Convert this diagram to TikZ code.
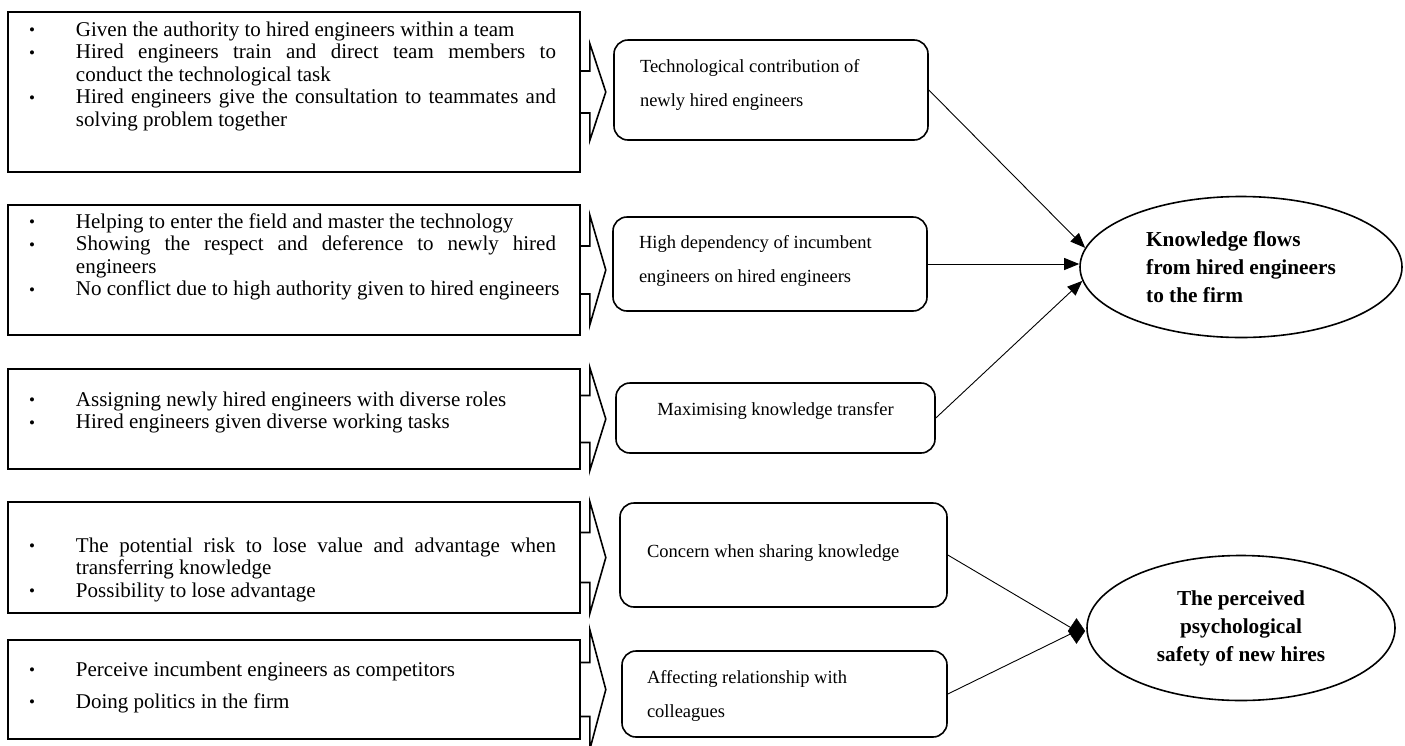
\documentclass[tikz,border=0pt]{standalone}
\usepackage{fontspec}
\setmainfont{Liberation Serif}
\usetikzlibrary{shapes.geometric,arrows.meta,calc}

\newcommand{\bulbox}{\makebox[47pt][l]{\raisebox{0.5pt}{\fontsize{17}{17}\selectfont\textbullet}}}
\newcommand{\bitem}[1]{\hspace*{21pt}\bulbox#1\par}
\newcommand{\bcont}[1]{\hspace*{68pt}#1\par}
\newcommand{\jline}[1]{\makebox[480pt][s]{#1}}
% #1 height, #2 baselineskip, #3 first baseline offset, #4 lines
\newcommand{\lefttext}[4]{\parbox[c][#1pt][t]{572pt}{\fontsize{21}{#2pt}\selectfont\rule{0pt}{#3pt}#4}}
% #1 width, #2 height, #3 first baseline offset, #4 lines
\newcommand{\rtext}[4]{\parbox[c][#2pt][t]{#1pt}{\fontsize{18.5}{34pt}\selectfont\rule{0pt}{#3pt}#4}}
% #1 node, #2 shaft half height, #3 head half height
\newcommand{\blockarrow}[3]{%
  \draw[barrow] ($(#1.east)+(0,-#2)$) -- ++(9,0) -- ++(0,{-(#3-#2)})
    -- ($(#1.east)+(25,0)$) -- ($(#1.east)+(9,#3)$) -- ++(0,{-(#3-#2)})
    -- ($(#1.east)+(0,#2)$);}

\tikzset{
  lbox/.style={draw, line width=1.6pt, rectangle, inner sep=0pt},
  rbox/.style={draw, line width=1.6pt, rectangle, rounded corners=14pt, inner sep=0pt},
  ell/.style={draw, line width=1.6pt, ellipse, inner sep=0pt,
    font=\fontsize{21.3}{28}\selectfont\bfseries},
  barrow/.style={draw, line width=1.6pt, line join=miter},
  conn/.style={draw, line width=0.9pt},
  tri/.style={-{Triangle[length=15pt,width=12pt]}},
  dmd/.style={diamond, fill=black, draw=black, inner sep=0pt, minimum width=17pt, minimum height=25pt}
}

\begin{document}
\begin{tikzpicture}[x=1pt,y=-1pt]
\useasboundingbox (0,0) rectangle (1405,745);

% left boxes
\node[lbox] (b1) at (294,92) {\lefttext{160}{22.5}{24}{%
  \bitem{Given the authority to hired engineers within a team}
  \bitem{\jline{Hired engineers train and direct team members to}}
  \bcont{conduct the technological task}
  \bitem{\jline{Hired engineers give the consultation to teammates and}}
  \bcont{solving problem together}}};

\node[lbox] (b2) at (294,270) {\lefttext{130}{22.5}{23}{%
  \bitem{Helping to enter the field and master the technology}
  \bitem{\jline{Showing the respect and deference to newly hired}}
  \bcont{engineers}
  \bitem{No conflict due to high authority given to hired engineers}}};

\node[lbox] (b3) at (294,419) {\lefttext{100}{22.5}{37}{%
  \bitem{Assigning newly hired engineers with diverse roles}
  \bitem{Hired engineers given diverse working tasks}}};

\node[lbox] (b4) at (294,557.5) {\lefttext{111}{22.5}{50}{%
  \bitem{\jline{The potential risk to lose value and advantage when}}
  \bcont{transferring knowledge}
  \bitem{Possibility to lose advantage}}};

\node[lbox] (b5) at (294,689.5) {\lefttext{99}{32}{36}{%
  \bitem{Perceive incumbent engineers as competitors}
  \bitem{Doing politics in the firm}}};

% rounded boxes
\node[rbox] (r1) at (771,90) {\rtext{314}{100}{32}{%
  \hspace*{26pt}Technological contribution of\par
  \hspace*{26pt}newly hired engineers}};
\node[rbox] (r2) at (770,264) {\rtext{314}{94}{31}{%
  \hspace*{26pt}High dependency of incumbent\par
  \hspace*{26pt}engineers on hired engineers}};
\node[rbox] (r3) at (775.5,418) {\rtext{319}{70}{32}{%
  \centering Maximising knowledge transfer}};
\node[rbox] (r4) at (783.5,555) {\rtext{327}{104}{54}{%
  \hspace*{27pt}Concern when sharing knowledge}};
\node[rbox] (r5) at (784.5,694) {\rtext{325}{86}{32}{%
  \hspace*{25pt}Affecting relationship with\par
  \hspace*{25pt}colleagues}};

% ellipses
\node[ell, minimum width=322pt, minimum height=141pt, align=left] (e1) at (1241,267)
  {Knowledge flows\\from hired engineers\\to the firm};
\node[ell, minimum width=308pt, minimum height=145pt, align=center] (e2) at (1241,628)
  {The perceived\\psychological\\safety of new hires};

% block arrows
\blockarrow{b1}{21}{48.5}
\blockarrow{b2}{24}{55}
\blockarrow{b3}{23.5}{51.5}
\blockarrow{b4}{25}{56}
\blockarrow{b5}{27}{60}

% connectors
\draw[conn,tri] (r1.east) -- (e1.173);
\draw[conn,tri] (r2.east) -- (r2.east -| e1.west);
\draw[conn,tri] (r3.east) -- (e1.185);
\node[dmd, anchor=east] (dm) at ([xshift=-1pt,yshift=-3pt]e2.west) {};
\draw[conn] (r4.east) -- (dm.center);
\draw[conn] (r5.east) -- (dm.center);
\end{tikzpicture}
\end{document}
